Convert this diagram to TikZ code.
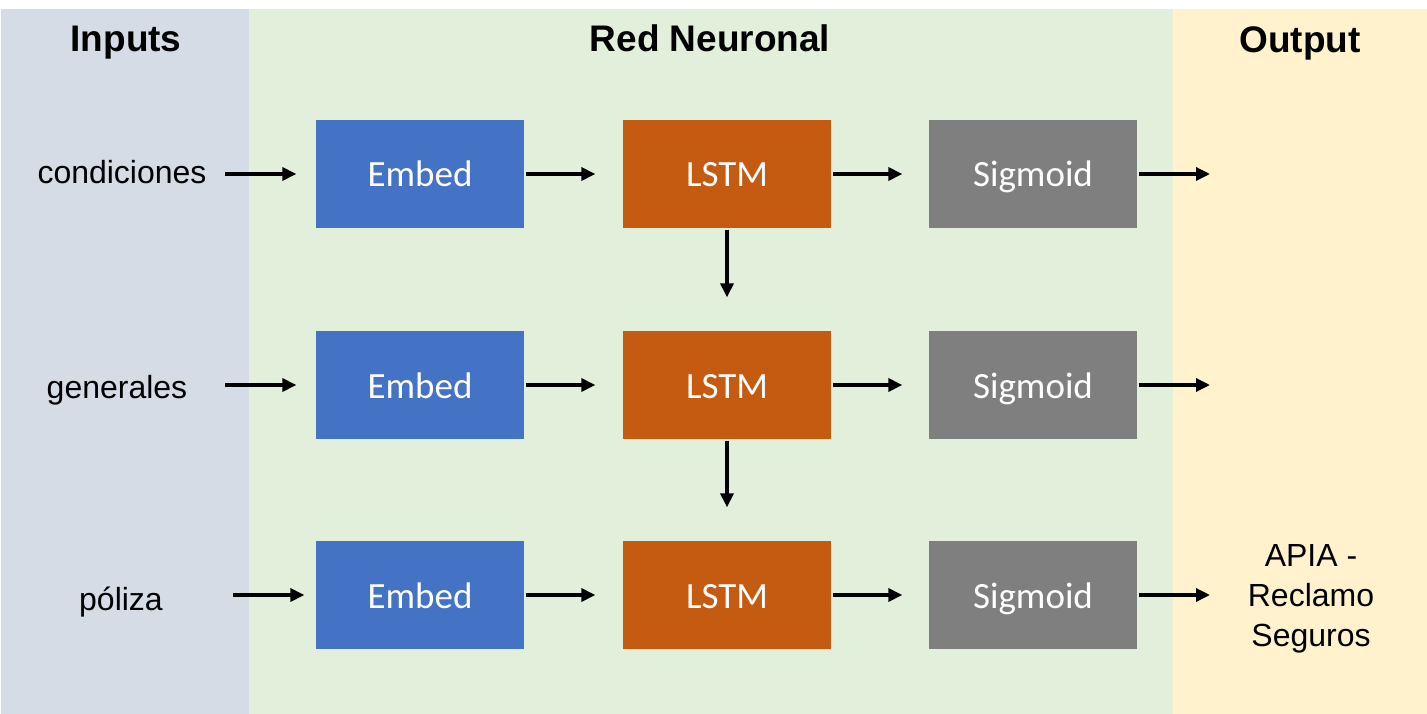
\documentclass[tikz,border=0pt]{standalone}
\usepackage{fontspec}
\setmainfont{Liberation Sans}
\newfontfamily\boxfont{Carlito}
\usetikzlibrary{arrows.meta}
\definecolor{inputbg}{HTML}{D6DCE5}
\definecolor{netbg}{HTML}{E2EFDA}
\definecolor{outbg}{HTML}{FFF2CC}
\definecolor{embedblue}{HTML}{4472C4}
\definecolor{lstmorange}{HTML}{C55A11}
\definecolor{sigmagray}{HTML}{7F7F7F}

\begin{document}
\begin{tikzpicture}[x=1pt,y=-1pt,->,>={Triangle[length=14pt,width=13pt]},line width=3.3pt,
        layer/.style={shape=rectangle,draw=none,minimum width=208pt,minimum height=108pt,
            inner sep=0pt,text height=26pt,text depth=0pt,text=white,
            font=\boxfont\fontsize{37}{44}\selectfont},
        title/.style={anchor=base,font=\bfseries\fontsize{37}{44}\selectfont},
        label/.style={anchor=base,font=\fontsize{32}{38}\selectfont}]
            \useasboundingbox (0,0) rectangle (1427,714);
            \fill[inputbg] (1,9) rectangle (249,714);
            \fill[netbg] (249,9) rectangle (1173,714);
            \fill[outbg] (1173,9) rectangle (1427,714);
            \node[title](Inputs)at(126, 52){Inputs};
            \node[title](Red)at(710, 52){Red Neuronal};
            \node[title](Output)at(1300, 53){Output};
            \node[label](c1)at(122, 184){condiciones};
            \node[label](c2)at(117, 398){generales};
            \node[label](c3)at(121, 610){póliza};
            \node[align=center,font=\fontsize{32}{40}\selectfont](apia)at(1311, 599){APIA -\\Reclamo\\Seguros};
            \node[layer,fill=embedblue](e1)at(420, 174){Embed};
            \node[layer,fill=lstmorange](l1)at(727, 174){LSTM};
            \node[layer,fill=sigmagray](s1)at(1033, 174){Sigmoid};
            \node[layer,fill=embedblue](e2)at(420, 385){Embed};
            \node[layer,fill=lstmorange](l2)at(727, 385){LSTM};
            \node[layer,fill=sigmagray](s2)at(1033, 385){Sigmoid};
            \node[layer,fill=embedblue](e3)at(420, 595){Embed};
            \node[layer,fill=lstmorange](l3)at(727, 595){LSTM};
            \node[layer,fill=sigmagray](s3)at(1033, 595){Sigmoid};
            \coordinate (i1) at (225, 174);
            \coordinate (i2) at (225, 385);
            \coordinate (i3) at (233, 595);
            \coordinate (o1) at (1210, 174);
            \coordinate (o2) at (1210, 385);
            \coordinate (o3) at (1210, 595);
            \path[](i1) edge [shorten >=18pt] (e1)
            (e1) edge [shorten >=26pt] (l1)
            (l1) edge [shorten >=25pt] (s1)
            (s1) edge (o1)
            (l1) edge [shorten >=32pt] (l2)
            (i2) edge [shorten >=18pt] (e2)
            (e2) edge [shorten >=26pt] (l2)
            (l2) edge [shorten >=25pt] (s2)
            (s2) edge (o2)
            (l2) edge [shorten >=32pt] (l3)
            (i3) edge [shorten >=10pt] (e3)
            (e3) edge [shorten >=26pt] (l3)
            (l3) edge [shorten >=25pt] (s3)
            (s3) edge (o3);
        \end{tikzpicture}
\end{document}
